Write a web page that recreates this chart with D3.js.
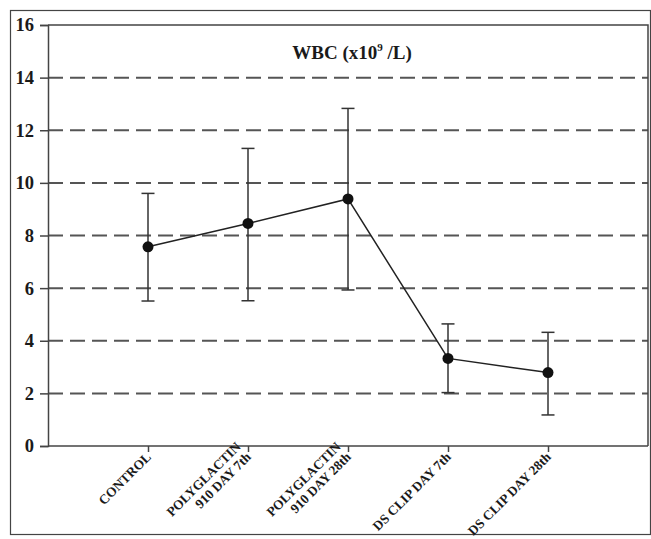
<!DOCTYPE html>
<html>
<head>
<meta charset="utf-8">
<script src="https://cdn.jsdelivr.net/npm/d3@7"></script>
<style>
  html, body { margin: 0; padding: 0; background: #fff; }
  svg { display: block; }
</style>
</head>
<body>
<svg id="chart" width="651" height="539"></svg>
<script>
// WBC counts per group: mean with upper/lower error limits
const categories = [
  ["CONTROL"],
  ["POLYGLACTIN", "910 DAY 7th"],
  ["POLYGLACTIN", "910 DAY 28th"],
  ["DS CLIP DAY 7th"],
  ["DS CLIP DAY 28th"]
];
const means = [7.57, 8.46, 9.39, 3.33, 2.79];
const upper = [9.60, 11.31, 12.83, 4.64, 4.32];
const lower = [5.51, 5.52, 5.93, 2.03, 1.18];
const yTicks = [0, 2, 4, 6, 8, 10, 12, 14, 16];

const svg = d3.select("#chart");
const ink = "#1a1a1a";
const serif = "'Liberation Serif', 'Times New Roman', serif";

const plot = { left: 48, right: 648, top: 25, bottom: 446 };

// outer frame
svg.append("rect")
  .attr("x", 10.5).attr("y", 10.5)
  .attr("width", 640).attr("height", 524)
  .attr("fill", "none").attr("stroke", "#444").attr("stroke-width", 1.2);

const x = d3.scalePoint()
  .domain(d3.range(categories.length))
  .range([plot.left, plot.right])
  .padding(1);

const y = d3.scaleLinear()
  .domain([0, 16])
  .range([plot.bottom, plot.top]);

// dashed gridlines
svg.append("g")
  .selectAll("line")
  .data(yTicks.filter(t => t > 0 && t < 16))
  .join("line")
  .attr("x1", plot.left).attr("x2", plot.right)
  .attr("y1", d => y(d)).attr("y2", d => y(d))
  .attr("stroke", "#555").attr("stroke-width", 2)
  .attr("stroke-dasharray", "15,7");

// plot border (top and right)
svg.append("path")
  .attr("d", `M${plot.left},${y(16)}H${plot.right}V${plot.bottom}`)
  .attr("fill", "none").attr("stroke", "#444").attr("stroke-width", 1.5);

// y axis
const yAxis = svg.append("g")
  .attr("transform", `translate(${plot.left},0)`)
  .call(d3.axisLeft(y).tickValues(yTicks).tickSize(8).tickPadding(6).tickFormat(d3.format("d")));
yAxis.select(".domain").attr("stroke", "#444").attr("stroke-width", 1.5);
yAxis.selectAll(".tick line").attr("stroke", "#444").attr("stroke-width", 1.5);
yAxis.selectAll(".tick text")
  .attr("font-family", serif).attr("font-weight", "bold")
  .attr("font-size", 18.5).attr("fill", ink);

// x axis
const xAxis = svg.append("g")
  .attr("transform", `translate(0,${plot.bottom})`)
  .call(d3.axisBottom(x).tickSize(6).tickFormat(""));
xAxis.select(".domain").attr("stroke", "#444").attr("stroke-width", 1.5)
  .attr("d", `M${plot.left},0H${plot.right}`);
xAxis.selectAll(".tick line").attr("stroke", "#444").attr("stroke-width", 1.5);

// rotated category labels, anchored at the end near each tick
const labels = svg.append("g");
categories.forEach((lines, i) => {
  const t = labels.append("text")
    .attr("transform", `translate(${x(i) + 1},${plot.bottom + 9}) rotate(-45)`)
    .attr("text-anchor", "end")
    .attr("font-family", serif).attr("font-weight", "bold")
    .attr("font-size", 13.4).attr("fill", ink);
  const n = lines.length;
  lines.forEach((s, k) => {
    t.append("tspan")
      .attr("x", 0)
      .attr("y", (k - (n - 1)) * 14.5 + 4)
      .text(s);
  });
});

// error bars
const cap = 6.5;
const err = svg.append("g").attr("stroke", "#333").attr("stroke-width", 1.5);
means.forEach((m, i) => {
  const cx = x(i);
  err.append("line").attr("x1", cx).attr("x2", cx).attr("y1", y(upper[i])).attr("y2", y(lower[i]));
  err.append("line").attr("x1", cx - cap).attr("x2", cx + cap).attr("y1", y(upper[i])).attr("y2", y(upper[i]));
  err.append("line").attr("x1", cx - cap).attr("x2", cx + cap).attr("y1", y(lower[i])).attr("y2", y(lower[i]));
});

// mean line and markers
svg.append("path")
  .datum(means)
  .attr("fill", "none").attr("stroke", "#222").attr("stroke-width", 1.5)
  .attr("d", d3.line().x((d, i) => x(i)).y(d => y(d)));

svg.append("g")
  .selectAll("circle")
  .data(means)
  .join("circle")
  .attr("cx", (d, i) => x(i)).attr("cy", d => y(d))
  .attr("r", 5.5).attr("fill", "#111");

// title
const title = svg.append("text")
  .attr("x", 352).attr("y", 59)
  .attr("text-anchor", "middle")
  .attr("font-family", serif).attr("font-weight", "bold")
  .attr("font-size", 19).attr("fill", ink);
title.append("tspan").text("WBC (x10");
title.append("tspan").attr("dy", -8).attr("font-size", 11).text("9");
title.append("tspan").attr("dy", 8).text(" /L)");
</script>
</body>
</html>
